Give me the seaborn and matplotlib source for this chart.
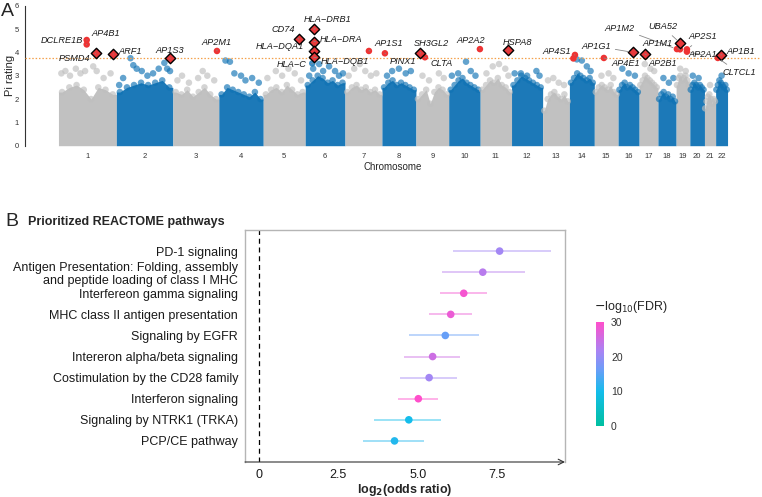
import matplotlib
matplotlib.use("Agg")
import matplotlib.pyplot as plt
import numpy as np
import pandas as pd
import seaborn as sns
from matplotlib.colors import LinearSegmentedColormap, Normalize
from matplotlib.cm import ScalarMappable

# ---------------- panel A: Manhattan plot ----------------
chrom_len = [249.3, 243.2, 198.0, 191.2, 180.9, 171.1, 159.1, 146.4, 141.2, 135.5, 135.0,
             133.9, 115.2, 107.3, 102.5, 90.4, 81.2, 78.1, 59.1, 63.0, 48.1, 51.3]

# height of the dense part of the cloud, 8 bins per chromosome
core_height = [
    [2.3, 2.5, 2.6, 2.4, 2.0, 2.5, 2.4, 2.2],
    [2.3, 2.5, 2.6, 2.7, 2.6, 2.7, 2.8, 2.5],
    [2.3, 2.2, 2.4, 2.1, 2.3, 2.5, 2.2, 2.0],
    [2.2, 2.5, 2.4, 2.3, 2.2, 2.1, 2.3, 2.0],
    [2.2, 2.4, 2.5, 2.3, 2.6, 2.4, 2.2, 2.3],
    [2.6, 2.8, 3.0, 2.9, 2.7, 2.8, 2.6, 2.7],
    [2.3, 2.5, 2.6, 2.4, 2.5, 2.3, 2.4, 2.2],
    [2.5, 2.7, 2.8, 2.6, 2.7, 2.6, 2.5, 2.4],
    [2.0, 2.2, 2.4, 1.8, 2.3, 2.5, 2.4, 2.2],
    [2.4, 2.6, 2.8, 2.9, 2.7, 2.6, 2.5, 2.4],
    [2.4, 2.6, 2.8, 2.7, 2.9, 2.6, 2.5, 2.3],
    [2.6, 2.8, 3.0, 2.9, 2.8, 2.7, 2.6, 2.5],
    [1.5, 2.0, 2.2, 2.3, 2.1, 2.0, 2.2, 1.9],
    [2.7, 2.9, 3.1, 3.0, 2.9, 2.8, 2.9, 2.7],
    [2.3, 2.5, 2.6, 2.5, 2.4, 2.6, 2.3, 2.2],
    [2.4, 2.6, 2.7, 2.5, 2.6, 2.5, 2.4, 2.3],
    [2.6, 2.8, 3.0, 2.9, 2.8, 2.7, 2.6, 2.5],
    [2.0, 2.2, 2.3, 2.1, 2.2, 2.0, 2.1, 1.9],
    [2.6, 2.9, 3.0, 2.8, 2.9, 3.0, 2.8, 2.6],
    [2.4, 2.6, 2.7, 2.6, 2.5, 2.6, 2.5, 2.4],
    [1.6, 1.9, 2.1, 2.2, 2.0, 1.8, 2.0, 1.9],
    [2.4, 2.6, 2.8, 2.7, 2.6, 2.5, 2.6, 2.4],
]

# sparse points above the dense part: (fraction along chromosome, Pi rating)
peaks = [
    [(0.05, 3.1), (0.12, 3.2), (0.2, 3.0), (0.3, 3.3), (0.38, 3.1), (0.46, 3.2), (0.6, 3.4), (0.66, 3.2), (0.78, 2.9), (0.9, 3.1)],
    [(0.05, 2.6), (0.12, 2.9), (0.25, 3.75), (0.3, 3.45), (0.36, 3.3), (0.45, 3.2), (0.55, 3.0), (0.65, 3.1), (0.75, 3.3), (0.85, 3.55), (0.9, 3.3), (0.95, 3.2)],
    [(0.1, 2.8), (0.2, 3.0), (0.35, 2.7), (0.55, 2.9), (0.65, 3.2), (0.75, 3.0), (0.9, 2.8)],
    [(0.15, 3.65), (0.25, 3.6), (0.35, 3.1), (0.5, 3.0), (0.6, 2.8), (0.75, 2.9), (0.9, 2.7)],
    [(0.1, 2.9), (0.3, 3.2), (0.45, 3.0), (0.6, 3.3), (0.75, 3.1), (0.9, 2.8)],
    [(0.1, 3.0), (0.2, 3.3), (0.35, 3.5), (0.45, 3.2), (0.6, 3.4), (0.75, 3.2), (0.85, 3.0), (0.95, 3.1)],
    [(0.1, 3.0), (0.25, 3.3), (0.4, 3.5), (0.55, 3.2), (0.7, 3.0), (0.85, 3.1)],
    [(0.15, 3.0), (0.3, 3.2), (0.5, 3.3), (0.7, 3.1), (0.85, 3.2)],
    [(0.2, 3.0), (0.4, 2.8), (0.7, 3.1), (0.85, 2.9)],
    [(0.1, 3.0), (0.3, 3.1), (0.55, 3.6), (0.7, 3.2), (0.85, 3.0)],
    [(0.2, 3.1), (0.4, 3.4), (0.6, 3.5), (0.8, 3.3), (0.9, 3.0)],
    [(0.1, 3.1), (0.3, 3.1), (0.5, 3.0), (0.8, 3.2), (0.9, 3.0)],
    [(0.2, 2.8), (0.4, 2.9), (0.6, 2.7), (0.8, 2.6)],
    [(0.3, 3.7), (0.5, 3.65), (0.7, 3.4), (0.85, 3.2)],
    [(0.3, 3.0), (0.6, 3.1), (0.8, 2.9)],
    [(0.2, 3.3), (0.5, 3.1), (0.8, 3.0)],
    [(0.3, 3.5), (0.6, 3.3), (0.8, 3.2)],
    [(0.3, 2.9), (0.6, 2.7), (0.85, 2.9)],
    [(0.3, 3.3), (0.7, 3.2)],
    [(0.2, 3.0), (0.6, 2.9)],
    [(0.5, 2.6)],
    [(0.5, 3.0)],
]

# highlighted genes (genome-wide position in Mb)
gene_name = ["DCLRE1B", "AP4B1", "PSMD4", "ARF1", "AP1S3", "AP2M1", "CD74", "HLA−DRB1", "HLA−DRA",
             "HLA−DQA1", "HLA−DQB1", "HLA−C", "AP1S1", "PINX1", "SH3GL2", "CLTA", "AP2A2", "HSPA8",
             "AP4S1", "", "AP4E1", "AP1G1", "AP2B1", "AP1M2", "AP1M1", "UBA52", "AP2S1", "AP2A1",
             "CLTCL1", "AP1B1"]
gene_pos = [121.6, 121.6, 160.3, 236.1, 480.2, 682.5, 1035.5, 1100, 1100, 1100, 1100, 1093, 1336.8,
            1405.7, 1556.4, 1578, 1814.7, 1935.2, 2224, 2217, 2348.5, 2473.3, 2525, 2663, 2676, 2676,
            2706, 2706, 2839, 2852]
gene_score = [4.34, 4.53, 3.96, 3.93, 3.74, 4.06, 4.57, 4.99, 4.46, 4.06, 3.79, 3.53, 4.06, 3.96, 3.96,
              3.79, 4.14, 4.10, 3.89, 3.74, 3.76, 4.00, 3.93, 4.14, 4.13, 4.41, 4.13, 4.03, 3.76, 3.89]
gene_kind = ["R", "R", "D", "D", "D", "R", "D", "D", "D", "D", "D", "B", "R", "R", "D", "R", "R", "D",
             "R", "R", "R", "D", "D", "R", "R", "D", "R", "R", "R", "D"]
label_x = [15, 205, 71, 308, 480, 682, 967, 1160, 1218, 955, 1235, 1005, 1423, 1483, 1604, 1651, 1776,
           1978, 2146, None, 2442, 2314, 2602, 2417, 2581, 2602, 2775, 2775, 2930, 2938]
label_y = [4.49, 4.83, 3.72, 4.02, 4.10, 4.44, 4.96, 5.39, 4.57, 4.27, 3.63, 3.46, 4.36, 3.59, 4.36, 3.54,
           4.49, 4.44, 4.02, None, 3.54, 4.27, 3.54, 5.04, 4.36, 5.09, 4.66, 3.89, 3.12, 4.02]
threshold = 3.75

# ---------------- panel B: pathway enrichment ----------------
pathways = ["PD-1 signaling",
            "Antigen Presentation: Folding, assembly\nand peptide loading of class I MHC",
            "Interfereon gamma signaling", "MHC class II antigen presentation", "Signaling by EGFR",
            "Intereron alpha/beta signaling", "Costimulation by the CD28 family",
            "Interferon signaling", "Signaling by NTRK1 (TRKA)", "PCP/CE pathway"]
log2_or = [7.58, 7.05, 6.45, 6.04, 5.87, 5.47, 5.36, 5.02, 4.72, 4.27]
ci_low = [6.10, 5.75, 5.71, 5.37, 4.74, 4.58, 4.44, 4.37, 3.61, 3.27]
ci_high = [9.20, 8.38, 7.19, 6.70, 6.93, 6.32, 6.24, 5.64, 5.74, 5.20]
neg_log_fdr = [21, 23, 29, 28, 16, 25, 21, 30, 10, 11]

sns.set_style("white")
plt.rcParams["font.family"] = ["Liberation Sans", "DejaVu Sans"]

GRAY = "#BEBEBE"
BLUE = "#0F72B4"

fig = plt.figure(figsize=(7.62, 4.97), dpi=100)

# ---- A ----
axa = fig.add_axes([25 / 762, 1 - 145.7 / 497, 736 / 762, 140 / 497])
total = sum(chrom_len)
starts = np.concatenate([[0], np.cumsum(chrom_len)[:-1]])
centers = starts + np.array(chrom_len) / 2

rows = []
for i, (s, L) in enumerate(zip(starts, chrom_len)):
    col = GRAY if i % 2 == 0 else BLUE
    h = core_height[i]
    bx = s + (np.arange(len(h)) + 0.5) / len(h) * L
    xs = np.concatenate([[s], bx, [s + L]])
    hs = np.concatenate([[h[0]], h, [h[-1]]])
    axa.fill_between(xs, 0, hs, color=col, lw=0, alpha=0.95, zorder=1)
    for xb, hb in zip(bx, h):
        rows.append((xb, hb, col))
    for f, v in peaks[i]:
        rows.append((s + f * L, v, col))
pts = pd.DataFrame(rows, columns=["pos", "pi", "col"])
sns.scatterplot(data=pts, x="pos", y="pi", hue="col", palette={GRAY: GRAY, BLUE: BLUE},
                s=22, alpha=0.65, edgecolor="none", legend=False, ax=axa, zorder=2)

axa.axhline(threshold, color="#F4A04A", lw=0.9, ls=(0, (1.2, 1.5)), zorder=3)

genes = pd.DataFrame({"pos": gene_pos, "pi": gene_score, "kind": gene_kind})
sns.scatterplot(data=genes[genes.kind == "B"], x="pos", y="pi", color=BLUE, s=22, alpha=0.8,
                edgecolor="none", ax=axa, zorder=4)
sns.scatterplot(data=genes[genes.kind == "R"], x="pos", y="pi", color="#EE3333", s=22,
                edgecolor="none", ax=axa, zorder=4)
sns.scatterplot(data=genes[genes.kind == "D"], x="pos", y="pi", color="#E8393B", marker="D", s=28,
                edgecolor="black", linewidth=1.0, ax=axa, zorder=5)

for name, gx, gy, lx, ly in zip(gene_name, gene_pos, gene_score, label_x, label_y):
    if not name:
        continue
    axa.annotate(name, xy=(gx, gy), xytext=(lx, ly), fontsize=6.6, fontstyle="italic",
                 ha="center", va="center", color="#1a1a1a", zorder=6,
                 arrowprops=dict(arrowstyle="-", color="#888888", lw=0.6, shrinkA=1, shrinkB=3))

axa.set_xlim(-0.05 * total, 1.05 * total)
axa.set_ylim(0, 6)
for side in ["top", "right", "bottom"]:
    axa.spines[side].set_visible(False)
axa.spines["left"].set_color("#333333")
axa.spines["left"].set_linewidth(0.8)
axa.set_yticks(range(7))
axa.set_xticks(centers)
axa.set_xticklabels([str(i + 1) for i in range(22)])
axa.tick_params(axis="y", length=3, width=0.7, color="#333333", labelsize=5.5, pad=1.5, labelcolor="#333333")
axa.tick_params(axis="x", length=2.5, width=0.6, color="#333333", labelsize=5.5, pad=3, labelcolor="#333333")
axa.set_xlabel("Chromosome", fontsize=7, labelpad=1.5)
axa.set_ylabel("Pi rating", fontsize=8)
axa.yaxis.set_label_coords(-10 / 736, 0.5)
fig.text(1 / 762, 1 - 12 / 497, "A", fontsize=14, va="center", ha="left")

# ---- B ----
cmap = LinearSegmentedColormap.from_list(
    "fdr", [(0.0, "#00BFA0"), (0.33, "#14BDEB"), (0.55, "#6E9CF8"), (0.72, "#A984F4"), (1.0, "#FF4FCB")])
norm = Normalize(0, 30)

axb = fig.add_axes([245 / 762, 1 - 462 / 497, 320 / 762, 232 / 497])
dfb = pd.DataFrame({"ypos": np.arange(len(pathways)), "or": log2_or, "fdr": neg_log_fdr})
axb.hlines(dfb.ypos, ci_low, ci_high, colors=[cmap(norm(v)) for v in neg_log_fdr], lw=1.1, alpha=0.55, zorder=2)
sns.scatterplot(data=dfb, x="or", y="ypos", hue="fdr", palette=cmap, hue_norm=(0, 30), s=30,
                edgecolor="none", legend=False, ax=axb, zorder=3)
axb.axvline(0, color="black", lw=0.9, ls=(0, (4, 3)), zorder=1)

axb.set_xlim(-0.44, 9.64)
axb.set_ylim(10, -1)
axb.set_yticks(dfb.ypos)
axb.set_yticklabels(pathways)
axb.set_xticks([0, 2.5, 5.0, 7.5])
axb.set_xticklabels(["0", "2.5", "5.0", "7.5"])
axb.tick_params(axis="both", length=3, width=0.6, color="#555555", labelsize=9, labelcolor="#1a1a1a", pad=2)
axb.set_ylabel("")
axb.set_xlabel(r"log$_{\mathbf{2}}$(odds ratio)", fontsize=9, fontweight="bold", labelpad=1)
for side in ["top", "right", "left"]:
    axb.spines[side].set_color("#B5B5B5")
    axb.spines[side].set_linewidth(1.0)
axb.spines["bottom"].set_visible(False)
axb.annotate("", xy=(1.0, 0), xytext=(0, 0), xycoords="axes fraction", textcoords="axes fraction",
             arrowprops=dict(arrowstyle="->", color="#333333", lw=0.8, shrinkA=0, shrinkB=0,
                             mutation_scale=10), annotation_clip=False)

fig.text(5 / 762, 1 - 222 / 497, "B", fontsize=14, va="center", ha="left")
fig.text(28 / 762, 1 - 222 / 497, "Prioritized REACTOME pathways", fontsize=9, fontweight="bold",
         va="center", ha="left")

cax = fig.add_axes([596 / 762, 1 - 426 / 497, 8 / 762, 104 / 497])
cb = fig.colorbar(ScalarMappable(norm=norm, cmap=cmap), cax=cax, ticks=[0, 10, 20, 30])
cb.outline.set_visible(False)
cax.tick_params(length=0, labelsize=7.5, pad=5, labelcolor="#333333")
fig.text(594 / 762, 1 - 307 / 497, r"$-$log$_{10}$(FDR)", fontsize=9, va="center", ha="left")

fig.savefig("out.png", dpi=100)
